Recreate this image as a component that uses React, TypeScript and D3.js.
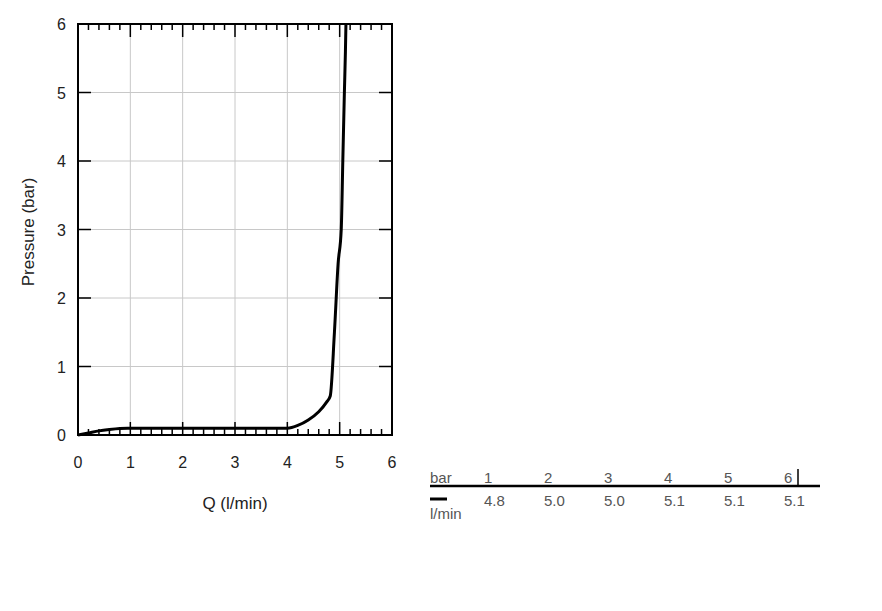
import React from "react";
import * as d3 from "d3";

const xTicks = [0, 1, 2, 3, 4, 5, 6];
const yTicks = [0, 1, 2, 3, 4, 5, 6];
const curveQ = [0, 0.2, 0.4, 0.6, 0.8, 0.95, 2.0, 3.0, 4.0, 4.2, 4.4, 4.6, 4.75, 4.82, 4.9, 4.97, 5.03, 5.06, 5.09, 5.11, 5.12];
const curveP = [0, 0.03, 0.06, 0.08, 0.095, 0.1, 0.1, 0.1, 0.1, 0.14, 0.22, 0.34, 0.48, 0.57, 1.5, 2.5, 3.0, 4.0, 5.0, 5.6, 6.0];
const tablePressures = ["1", "2", "3", "4", "5", "6"];
const tableFlows = ["4.8", "5.0", "5.0", "5.1", "5.1", "5.1"];

export default function App() {
  const W = 882, H = 611;
  const x = d3.scaleLinear().domain([0, 6]).range([78, 392]);
  const y = d3.scaleLinear().domain([0, 6]).range([435, 24]);
  const minor = d3.range(0, 6.0001, 0.2).filter((v) => Math.abs(v - Math.round(v)) > 1e-6);
  const line = d3.line<number>().x((d, i) => x(curveQ[i])).y((d) => y(d)).curve(d3.curveMonotoneX);
  const col = d3.scaleLinear().domain([0, 5]).range([484, 784]);
  const font = "Liberation Sans, Arial, sans-serif";
  const tc = "#555";
  return (
    <svg width={W} height={H} style={{ position: "absolute", left: 0, top: 0 }} fontFamily={font}>
      <rect width={W} height={H} fill="#fff" />
      {xTicks.slice(1, -1).map((t) => (
        <line key={"gx" + t} x1={x(t)} x2={x(t)} y1={y(0)} y2={y(6)} stroke="#c8c8c8" strokeWidth={1} />
      ))}
      {yTicks.slice(1, -1).map((t) => (
        <line key={"gy" + t} x1={x(0)} x2={x(6)} y1={y(t)} y2={y(t)} stroke="#c8c8c8" strokeWidth={1} />
      ))}
      {minor.map((t) => (
        <g key={"mn" + t}>
          <line x1={x(t)} x2={x(t)} y1={y(0)} y2={y(0) - 6} stroke="#000" strokeWidth={1.5} />
          <line x1={x(t)} x2={x(t)} y1={y(6)} y2={y(6) + 6} stroke="#000" strokeWidth={1.5} />
        </g>
      ))}
      {xTicks.slice(1, -1).map((t) => (
        <g key={"mj" + t}>
          <line x1={x(t)} x2={x(t)} y1={y(0)} y2={y(0) - 13} stroke="#000" strokeWidth={1.5} />
          <line x1={x(t)} x2={x(t)} y1={y(6)} y2={y(6) + 13} stroke="#000" strokeWidth={1.5} />
        </g>
      ))}
      {yTicks.slice(1, -1).map((t) => (
        <g key={"yt" + t}>
          <line x1={x(0)} x2={x(0) + 13} y1={y(t)} y2={y(t)} stroke="#000" strokeWidth={1.5} />
          <line x1={x(6)} x2={x(6) - 13} y1={y(t)} y2={y(t)} stroke="#000" strokeWidth={1.5} />
        </g>
      ))}
      <rect x={x(0)} y={y(6)} width={x(6) - x(0)} height={y(0) - y(6)} fill="none" stroke="#000" strokeWidth={2} />
      <path d={line(curveP) || ""} fill="none" stroke="#000" strokeWidth={3} strokeLinejoin="round" />
      {xTicks.map((t) => (
        <text key={"xl" + t} x={x(t)} y={468} textAnchor="middle" fontSize={16} fill="#222">{t}</text>
      ))}
      {yTicks.map((t) => (
        <text key={"yl" + t} x={66} y={y(t) + 6} textAnchor="end" fontSize={16} fill="#222">{t}</text>
      ))}
      <text x={235} y={509} textAnchor="middle" fontSize={17} fill="#222">Q (l/min)</text>
      <text transform="translate(34,232) rotate(-90)" textAnchor="middle" fontSize={17} fill="#222">Pressure (bar)</text>
      <line x1={430} x2={820} y1={486} y2={486} stroke="#000" strokeWidth={2.5} />
      <text x={430} y={483} fontSize={15} fill={tc}>bar</text>
      {tablePressures.map((p, i) => (
        <text key={"tp" + i} x={col(i)} y={483} fontSize={15} fill={tc}>{p}</text>
      ))}
      <line x1={798} x2={798} y1={469} y2={486} stroke="#000" strokeWidth={1.5} />
      <line x1={430} x2={447} y1={499} y2={499} stroke="#000" strokeWidth={3} />
      {tableFlows.map((v, i) => (
        <text key={"tf" + i} x={col(i)} y={506} fontSize={15} fill={tc}>{v}</text>
      ))}
      <text x={430} y={519} fontSize={15} fill={tc}>l/min</text>
    </svg>
  );
}
